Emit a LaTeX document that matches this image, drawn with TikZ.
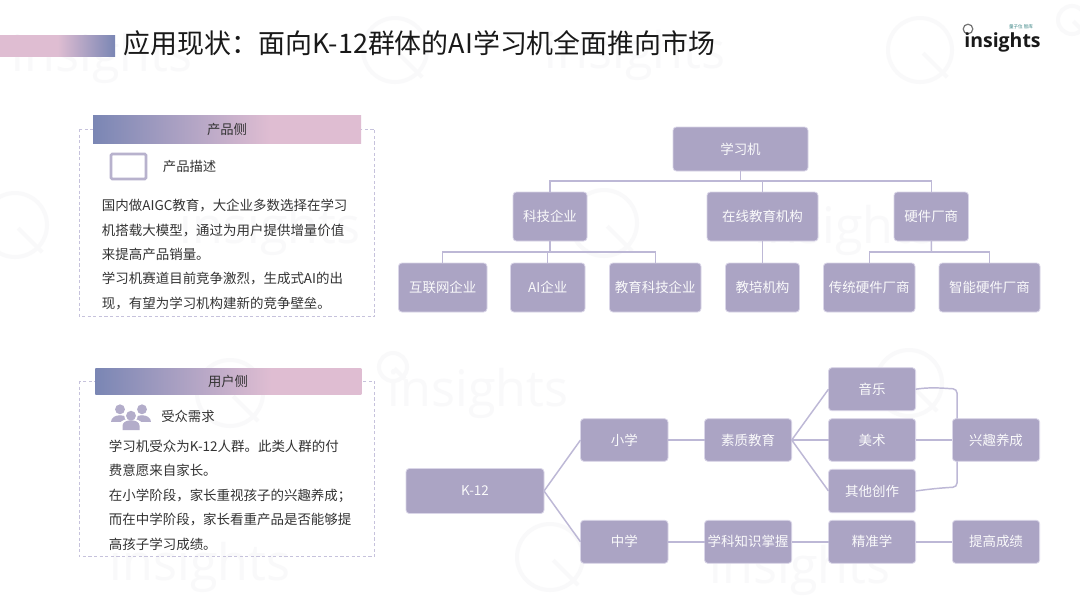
\documentclass[tikz,border=0pt]{standalone}
\usepackage{fontspec}
\setmainfont{Noto Sans CJK SC}
\newfontfamily\logofont{Open Sans}
\usetikzlibrary{calc}
\definecolor{boxfill}{HTML}{ABA4C4}
\definecolor{boxedge}{HTML}{DAD6E8}
\definecolor{linkcol}{HTML}{BDB8D6}
\definecolor{dashcol}{HTML}{C6C2DC}
\definecolor{barblue}{HTML}{7A86B4}
\definecolor{barpink}{HTML}{DFBDD2}
\definecolor{inkdark}{HTML}{333333}
\definecolor{wmark}{HTML}{F9F9FA}
\pgfdeclarehorizontalshading{hdrshade}{100bp}{color(0bp)=(barblue);color(25bp)=(barblue);color(58bp)=(barpink);color(100bp)=(barpink)}
\pgfdeclarehorizontalshading{ttlshade}{100bp}{color(0bp)=(barpink);color(50bp)=(barpink);color(75bp)=(barblue);color(100bp)=(barblue)}
\tikzset{
  pbox/.style={draw=boxedge,line width=0.6pt,fill=boxfill,rounded corners=2.5pt,text=white!94!boxfill,inner sep=0pt,outer sep=0pt,font=\fontsize{10.1pt}{12pt}\selectfont},
  link/.style={draw=linkcol,line width=1.1pt},
  dashbox/.style={draw=dashcol,line width=0.6pt,dash pattern=on 2.4pt off 1.8pt},
  hdrtext/.style={text=inkdark,inner sep=0pt,font=\fontsize{10pt}{12pt}\selectfont},
  bodytext/.style={text=inkdark,inner sep=0pt,anchor=north west,align=left,font=\fontsize{10.1pt}{18.3pt}\selectfont},
  wmtext/.style={text=wmark,inner sep=0pt,font=\logofont\fontsize{37.7pt}{40pt}\selectfont},
  wmring/.style={draw=wmark,line width=3pt},
  iconfill/.style={fill=boxfill!90!white,draw=none},
}
\newcommand{\bx}[6]{\node[pbox,minimum width={(#4-#2)*0.75pt},minimum height={(#5-#3)*0.75pt}] (#1) at ({(#2+#4)/2},{(#3+#5)/2}) {#6};}
\newcommand{\wmq}[3]{\draw[wmring] (#1,#2) circle ({#3*0.75pt}); \draw[wmring] ({#1+0.1*#3},{#2+0.1*#3}) -- ({#1+0.85*#3},{#2+0.85*#3});}
\begin{document}
\begin{tikzpicture}[x=0.75pt,y=-0.75pt]
\useasboundingbox (0,0) rectangle (1080,608);
\fill[white] (0,0) rectangle (1080,608);
% watermarks
\foreach \wx/\wy in {102/58,635/55,270/230,845/230,478/393,200/567,800/570}{
  \node[wmtext] at (\wx,\wy) {insights};
}
\wmq{395}{50}{32}
\wmq{920}{50}{32}
\wmq{15}{225}{32}
\wmq{604}{223}{33}
\wmq{230}{393}{33}
\wmq{909}{383}{33}
\wmq{550}{557}{33}
\wmq{1072}{20}{14}
\wmq{393}{367}{14}
% title bar
\shade[shading=ttlshade] (0,35.7) rectangle (115,56);
\node[inner sep=0pt,anchor=west,text=black!90,font=\fontsize{20.2pt}{24pt}\selectfont] (title) at (123.5,43) {应用现状：面向K-12群体的AI学习机全面推向市场};
% logo
\draw[draw=black!55,line width=0.9pt] (968,29) circle (3.6pt);
\node[inner sep=0pt,text=black!90,font=\logofont\fontsize{14.6pt}{18pt}\selectfont\bfseries] (logo) at (1002.5,42) {insights};
\node[inner sep=0pt,text=teal!60!gray,font=\fontsize{3.4pt}{4pt}\selectfont] (logosub) at (1021,26.5) {量子位 智库};
% product panel
\draw[dashbox] (79.3,129) rectangle (374.7,316.7);
\shade[shading=hdrshade] (93,115) rectangle (361,143.7);
\node[hdrtext] (hdrA) at (227,129.3) {产品侧};
\draw[draw=boxfill!85!white,line width=2pt,rounded corners=1pt,fill=white] (111,154) rectangle (146,179);
\node[hdrtext,anchor=west] (descA) at (162.7,166.7) {产品描述};
\node[bodytext] (bodyA) at (101.7,199) {国内做AIGC教育，大企业多数选择在学习\\机搭载大模型，通过为用户提供增量价值\\来提高产品销量。\\学习机赛道目前竞争激烈，生成式AI的出\\现，有望为学习机构建新的竞争壁垒。};
% user panel
\draw[dashbox] (79.3,381) rectangle (374.7,556.7);
\shade[shading=hdrshade] (95.3,368) rectangle (361.3,394);
\node[hdrtext] (hdrB) at (228,381.5) {用户侧};
\fill[iconfill] (120,409.3) circle (3.7pt);
\fill[iconfill] (142,409.3) circle (3.7pt);
\fill[iconfill] (111,422) .. controls (111,412.5) and (129,412.5) .. (129,422) -- cycle;
\fill[iconfill] (133,422) .. controls (133,412.5) and (151,412.5) .. (151,422) -- cycle;
\fill[white] (131,415.7) circle (5pt);
\fill[white] (119.5,431) -- (119.5,424) .. controls (122,417) and (140,417) .. (142.5,424) -- (142.5,431) -- cycle;
\fill[iconfill] (131,415.7) circle (3.7pt);
\fill[iconfill] (122.5,430) -- (122.5,425.5) .. controls (123,418.5) and (139,418.5) .. (139.5,425.5) -- (139.5,430) -- cycle;
\node[hdrtext,anchor=west] (descB) at (161,416) {受众需求};
\node[bodytext] (bodyB) at (108.7,439.8) {学习机受众为K-12人群。此类人群的付\\费意愿来自家长。\\在小学阶段，家长重视孩子的兴趣养成；\\而在中学阶段，家长看重产品是否能够提\\高孩子学习成绩。};
% upper tree
\bx{root}{673}{127}{808}{171}{学习机}
\bx{tech}{513}{192}{587}{241}{科技企业}
\bx{online}{707}{192}{818}{241}{在线教育机构}
\bx{hard}{894}{192}{968.5}{241}{硬件厂商}
\bx{net}{398.5}{263}{487}{312}{互联网企业}
\bx{aico}{510.5}{263}{585}{312}{AI企业}
\bx{edutech}{609.5}{263}{701}{312}{教育科技企业}
\bx{train}{725.5}{263}{799.5}{312}{教培机构}
\bx{oldhw}{823.5}{263}{915}{312}{传统硬件厂商}
\bx{smarthw}{939}{263}{1040}{312}{智能硬件厂商}
\coordinate (busA) at (740.5,181);
\coordinate (busB) at (550,252);
\coordinate (busC) at (931.5,252);
\draw[link] (root.south) -- (busA);
\draw[link] (tech.north) |- (busA);
\draw[link] (online.north) |- (busA);
\draw[link] (hard.north) |- (busA);
\draw[link] (tech.south) -- (busB);
\draw[link] (net.north) |- (busB);
\draw[link] (aico.north) |- (busB);
\draw[link] (edutech.north) |- (busB);
\draw[link] (online.south) -- (train.north);
\draw[link] (hard.south) -- (busC);
\draw[link] (oldhw.north) |- (busC);
\draw[link] (smarthw.north) |- (busC);
% lower tree
\bx{k12}{406}{468.5}{544}{513.5}{K-12}
\bx{primary}{580.5}{418.7}{668}{461.3}{小学}
\bx{quality}{704.5}{418.7}{791.7}{461.3}{素质教育}
\bx{music}{828.5}{367.7}{915.6}{410.7}{音乐}
\bx{art}{828.5}{418.7}{915.6}{461.3}{美术}
\bx{other}{828.5}{469.3}{915.6}{512.7}{其他创作}
\bx{interest}{952.4}{418.7}{1039.6}{461.3}{兴趣养成}
\bx{middle}{580.5}{520.3}{668}{563.3}{中学}
\bx{subject}{704.5}{520.3}{791.7}{563.3}{学科知识掌握}
\bx{precise}{828.5}{520.3}{915.6}{563.3}{精准学}
\bx{score}{952.4}{520.3}{1039.6}{563.3}{提高成绩}
\draw[link] (k12.east) -- (primary.west);
\draw[link] (k12.east) -- (middle.west);
\draw[link] (primary.east) -- (quality.west);
\draw[link] (quality.east) -- (music.west);
\draw[link] (quality.east) -- (art.west);
\draw[link] (quality.east) -- (other.west);
\draw[link] (art.east) -- (interest.west);
\draw[link] (middle.east) -- (subject.west);
\draw[link] (subject.east) -- (precise.west);
\draw[link] (precise.east) -- (score.west);
\coordinate (elbowU) at (957,389);
\coordinate (elbowL) at (957,487);
\draw[link,rounded corners=3pt] (music.east) .. controls (930,387) and (940,388) .. (elbowU) -- (elbowU |- interest.north);
\draw[link,rounded corners=3pt] (other.east) .. controls (930,489) and (940,488) .. (elbowL) -- (elbowL |- interest.south);
\end{tikzpicture}
\end{document}
